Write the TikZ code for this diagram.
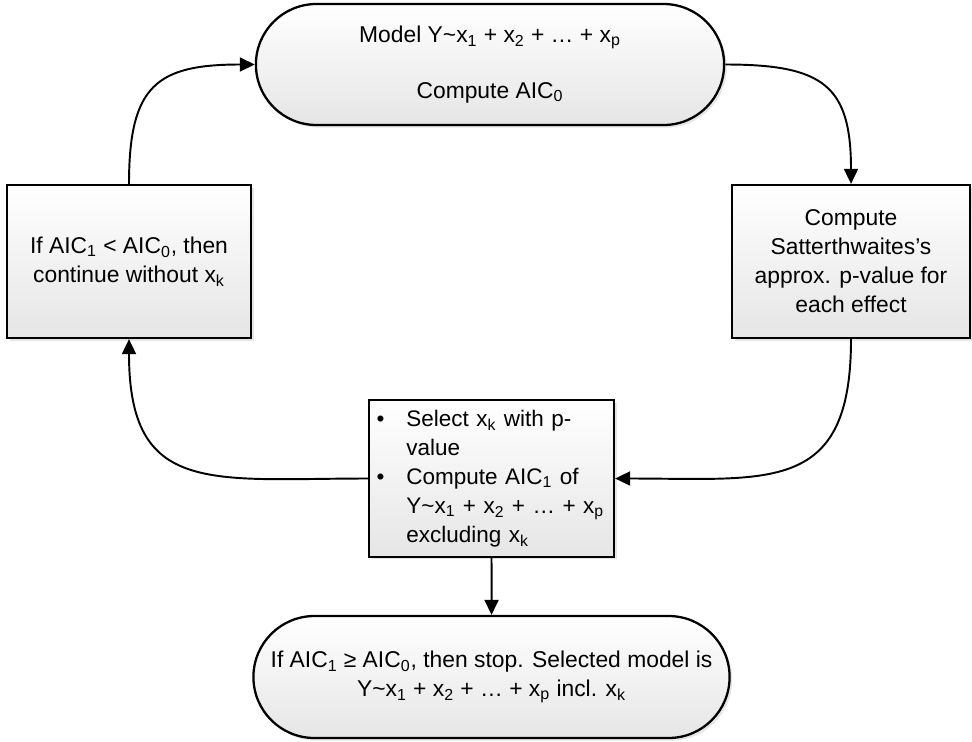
\documentclass[tikz,border=0pt]{standalone}
\usepackage{fontspec}
\setmainfont{Liberation Sans}
\usetikzlibrary{arrows.meta,shapes.misc,shadows}

\newcommand{\tld}{\textasciitilde}
\newcommand{\xv}[1]{x\textsubscript{#1}}

\begin{document}
\begin{tikzpicture}[x=0.02cm,y=-0.02cm,font=\fontsize{13}{16.5}\selectfont]
      \tikzstyle{term}=[rounded rectangle,line width=1.3pt,draw=black,align=center,
        top color=white,bottom color=black!10,
        drop shadow={shadow xshift=1.5pt,shadow yshift=-1.5pt,opacity=0.2}]
      \tikzstyle{proc}=[rectangle,line width=1.3pt,draw=black,align=center,
        minimum width=4.88cm,minimum height=3.06cm,
        top color=white,bottom color=black!10,
        drop shadow={shadow xshift=1.5pt,shadow yshift=-1.5pt,opacity=0.2}]
      \tikzstyle{flow}=[->,line width=1.1pt,>={Triangle[length=3mm,width=2.8mm]}]

      \useasboundingbox (0,0) rectangle (972,741);

      \node[term,minimum width=9.6cm,minimum height=2.42cm](model) at (490,64.5)
        {Model Y\tld\xv{1} + \xv{2} + \ldots{} + \xv{p}\\[15pt] Compute AIC\textsubscript{0}};
      \node[proc](keep) at (129,261.5)
        {If AIC\textsubscript{1} < AIC\textsubscript{0}, then\\continue without \xv{k}};
      \node[proc,minimum width=4.76cm](pval) at (851,261.5)
        {Compute\\Satterthwaites's\\approx. p-value for\\each effect};
      \node[proc,minimum width=4.9cm,text width=4.6cm,align=left,inner xsep=0.15cm,
        font=\fontsize{12.8}{16.5}\selectfont](select) at (491.5,478.5)
        {\begin{tabular}{@{}l@{\hspace{0.44cm}}l@{}}
          \textbullet & Select \xv{k} with p-\\
                      & value\\
          \textbullet & Compute AIC\textsubscript{1} of\\
                      & Y\tld\xv{1} + \xv{2} + \ldots{} + \xv{p}\\
                      & excluding \xv{k}
         \end{tabular}};
      \node[term,minimum width=9.76cm,minimum height=2.44cm](stop) at (491.5,677)
        {If AIC\textsubscript{1} ≥ AIC\textsubscript{0}, then stop. Selected model is\\
         Y\tld\xv{1} + \xv{2} + \ldots{} + \xv{p} incl. \xv{k}};

      \path[flow,looseness=1.45]
      (keep) edge[out=90,in=180] (model)
      (model) edge[out=0,in=90] (pval)
      (pval) edge[out=-90,in=0] (select)
      (select) edge[out=180,in=-90] (keep);
      \path[flow]
      (select) edge (stop);
\end{tikzpicture}
\end{document}
